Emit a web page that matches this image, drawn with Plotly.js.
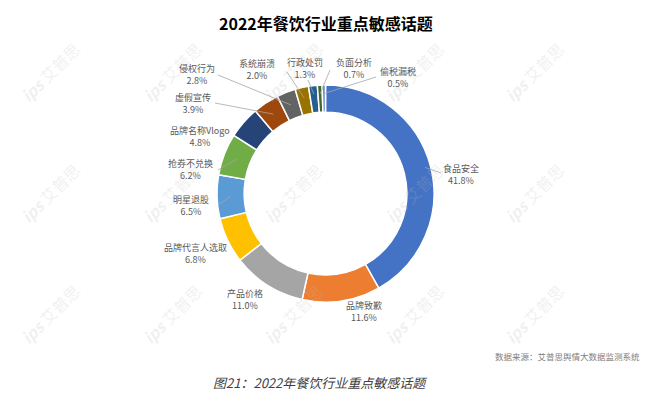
<!DOCTYPE html>
<html>
<head>
<meta charset="utf-8">
<script src="https://cdn.plot.ly/plotly-3.0.1.min.js"></script>
<style>html,body{margin:0;padding:0;background:#fff;}#chart{width:663px;height:395px;}</style>
</head>
<body>
<div id="chart"></div>
<script>
// ---- data ----
const categories = ["食品安全","品牌致歉","产品价格","品牌代言人选取","明星退股","抢券不兑换","品牌名称Vlogo","虚假宣传","侵权行为","系统崩溃","行政处罚","负面分析","偷税漏税"];
const shares = [41.8, 11.6, 11.0, 6.8, 6.5, 6.2, 4.8, 3.9, 2.8, 2.0, 1.3, 0.7, 0.5];
const colors = ["#4472C4","#ED7D31","#A5A5A5","#FFC000","#5B9BD5","#70AD47","#264478","#9E480E","#636363","#997300","#255E91","#43682B","#698ED0"];
const titleText = "2022年餐饮行业重点敏感话题";
const captionText = "图21：2022年餐饮行业重点敏感话题";
const sourceText = "数据来源：艾普思舆情大数据监测系统";

// ---- layout config (pixel positions) ----
const W = 663, H = 395;
const cx = 325.5, cy = 193.5, R = 108.5;
// label centres (px) for each category
const labelPos = [[461,174],[364,311],[245,299],[195,253],[191,205],[191,169],[200,136],[193,103],[197,74],[257,69],[305,68],[354,68],[398,77]];
// leader lines: label-side endpoint (px) or null; slice-side point computed from data
const leaderFrom = [[441,173],null,null,null,[218,205],[218,170],null,[215,103],[218,75],[287,72],[308,80],[330,70],[376,77]];
const leaderR = [103,0,0,0,95,95,0,95,95,98,100,100,100];

const px = x => x / W, py = y => 1 - y / H;

const total = shares.reduce((a,b)=>a+b,0);
let cum = 0;
const shapes = [], annotations = [];

// watermarks (drawn first so labels sit on top)
const wmX = [50,172,293,414,534], wmY = [72,193,314];
wmY.forEach(y => wmX.forEach(x => annotations.push({
  xref:'paper', yref:'paper', x: px(x), y: py(y), text:'<i><b>ips</b></i> 艾普思', showarrow:false,
  textangle:-45, font:{family:'"Noto Sans CJK SC", sans-serif', size:16, color:'rgba(190,190,190,0.22)'},
  xanchor:'center', yanchor:'middle'
})));

shares.forEach((v,i) => {
  const mid = (cum + v/2) / total * 2 * Math.PI;
  cum += v;
  annotations.push({
    xref:'paper', yref:'paper', x: px(labelPos[i][0]), y: py(labelPos[i][1]),
    text: categories[i] + '<br>' + v.toFixed(1) + '%', showarrow:false,
    font:{family:'"Noto Sans CJK SC", "Noto Sans", sans-serif', size:9, color:'#595959'},
    xanchor:'center', yanchor:'middle', align:'center'
  });
  if (leaderFrom[i]) {
    const sx = cx + leaderR[i]*Math.sin(mid), sy = cy - leaderR[i]*Math.cos(mid);
    shapes.push({type:'line', xref:'paper', yref:'paper',
      x0: px(leaderFrom[i][0]), y0: py(leaderFrom[i][1]), x1: px(sx), y1: py(sy),
      line:{color:'#a6a6a6', width:0.8}});
  }
});

annotations.push({xref:'paper', yref:'paper', x: px(326), y: py(23), text:'<b>'+titleText+'</b>', showarrow:false,
  font:{family:'"Noto Sans CJK SC", sans-serif', size:16, color:'#000'}, xanchor:'center', yanchor:'middle'});
annotations.push({xref:'paper', yref:'paper', x: px(642), y: py(356), text: sourceText, showarrow:false,
  font:{family:'"Noto Sans CJK SC", sans-serif', size:8.5, color:'#808080'}, xanchor:'right', yanchor:'middle'});
annotations.push({xref:'paper', yref:'paper', x: px(211), y: py(382), text:'<i>'+captionText+'</i>', showarrow:false,
  font:{family:'"Noto Sans CJK SC", sans-serif', size:13, color:'#404040'}, xanchor:'left', yanchor:'middle'});

const trace = {
  type:'pie', labels: categories, values: shares, sort:false, direction:'clockwise', rotation:0,
  hole:0.75, textinfo:'none', hoverinfo:'label+percent',
  marker:{colors: colors, line:{color:'#ffffff', width:1.5}},
  domain:{x:[(cx-R)/W,(cx+R)/W], y:[1-(cy+R)/H, 1-(cy-R)/H]},
  showlegend:false
};

Plotly.newPlot('chart', [trace], {
  width:W, height:H, margin:{l:0,r:0,t:0,b:0},
  paper_bgcolor:'#fff', plot_bgcolor:'#fff',
  shapes: shapes, annotations: annotations, showlegend:false
}, {staticPlot:true});
</script>
</body>
</html>
